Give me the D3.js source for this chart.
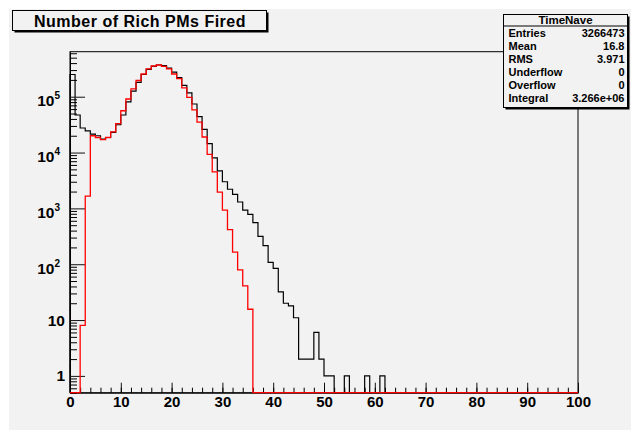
<!DOCTYPE html>
<html>
<head>
<meta charset="utf-8">
<script src="https://cdn.jsdelivr.net/npm/d3@7"></script>
<style>
  html, body { margin: 0; padding: 0; background: #ffffff; }
  svg { display: block; font-family: "Liberation Sans", Arial, Helvetica, sans-serif; }
</style>
</head>
<body>
<div id="chart"></div>
<script>
// Bin contents (100 bins of width 1 from 0 to 100)
const allHits = [
  250000, 47000, 27500, 24500, 21300, 20000, 17500, 18600, 23000, 31500,
  47000, 81000, 126000, 180000, 250000, 310000, 350000, 370000, 360000, 325000,
  275000, 220000, 160000, 117000, 74000, 44000, 26000, 14500, 8000, 4700,
  3000, 2200, 1780, 1300, 930, 780, 555, 315, 215, 108,
  84, 32, 20, 18, 11, 2, 2, 2, 6, 2,
  1, 1, 0, 0, 1, 0, 0, 0, 1, 0,
  0, 1, 0, 0, 0, 0, 0, 0, 0, 0,
  0, 0, 0, 0, 0, 0, 0, 0, 0, 0,
  0, 0, 0, 0, 0, 0, 0, 0, 0, 0,
  0, 0, 0, 0, 0, 0, 0, 0, 0, 0
];

const cutHits = [
  0, 0, 8, 1660, 20000, 18600, 17000, 18600, 23500, 33000,
  56000, 91000, 138000, 195000, 255000, 315000, 355000, 370000, 350000, 315000,
  255000, 210000, 144000, 97000, 58000, 35000, 19000, 9300, 4500, 1950,
  930, 418, 165, 79, 41, 15.6, 0, 0, 0, 0,
  0, 0, 0, 0, 0, 0, 0, 0, 0, 0,
  0, 0, 0, 0, 0, 0, 0, 0, 0, 0,
  0, 0, 0, 0, 0, 0, 0, 0, 0, 0,
  0, 0, 0, 0, 0, 0, 0, 0, 0, 0,
  0, 0, 0, 0, 0, 0, 0, 0, 0, 0,
  0, 0, 0, 0, 0, 0, 0, 0, 0, 0
];

const xTicks = [0, 10, 20, 30, 40, 50, 60, 70, 80, 90, 100];
const xMinorTicks = d3.range(0, 101, 2);
const yDecades = [1, 10, 100, 1000, 10000, 100000];
const yLabels = [['1', ''], ['10', ''], ['10', '2'], ['10', '3'], ['10', '4'], ['10', '5']];

const titleText = 'Number of Rich PMs Fired';
const statsName = 'TimeNave';
const statsRows = [
  ['Entries', '3266473'],
  ['Mean', '16.8'],
  ['RMS', '3.971'],
  ['Underflow', '0'],
  ['Overflow', '0'],
  ['Integral', '3.266e+06']
];

const W = 631, H = 430;
const frame = { left: 70, right: 578, top: 51.7, bottom: 392.7 };
const yMin = 0.5, yMax = 6.4e5;

const svg = d3.select('#chart').append('svg')
  .attr('width', W)
  .attr('height', H);

// Canvas pad
svg.append('rect')
  .attr('x', 9).attr('y', 9)
  .attr('width', W - 9).attr('height', H - 9)
  .attr('fill', '#f2f2f2');

// Scales
const x = d3.scaleLinear().domain([0, 100]).range([frame.left, frame.right]);
const y = d3.scaleLog().domain([yMin, yMax]).range([frame.bottom, frame.top]);

// Frame
svg.append('rect')
  .attr('x', frame.left).attr('y', frame.top)
  .attr('width', frame.right - frame.left)
  .attr('height', frame.bottom - frame.top)
  .attr('fill', 'none')
  .attr('stroke', '#000')
  .attr('stroke-width', 1);

// Step line through bin edges, empty bins sit on the frame bottom
function histPath(values) {
  const pts = [[0, yMin]];
  values.forEach((v, i) => pts.push([i, Math.max(v, yMin)]));
  pts.push([values.length, yMin]);
  return d3.line()
    .x(d => x(d[0]))
    .y(d => y(d[1]))
    .curve(d3.curveStepAfter)(pts);
}

svg.append('path')
  .attr('d', histPath(allHits))
  .attr('fill', 'none')
  .attr('stroke', '#000')
  .attr('stroke-width', 1.2);

// X axis: major + minor ticks pointing into the frame
const xAxisG = svg.append('g')
  .attr('transform', `translate(0,${frame.bottom})`)
  .call(d3.axisBottom(x).tickValues(xTicks).tickSizeInner(-10).tickSizeOuter(0).tickPadding(4));
svg.append('g')
  .attr('transform', `translate(0,${frame.bottom})`)
  .call(d3.axisBottom(x).tickValues(xMinorTicks).tickSizeInner(-5).tickSizeOuter(0).tickFormat(''))
  .call(g => g.select('.domain').remove());

xAxisG.select('.domain').attr('stroke', '#000');
xAxisG.selectAll('.tick line').attr('stroke', '#111');
xAxisG.selectAll('text')
  .attr('fill', '#000')
  .attr('font-size', '15px')
  .attr('font-weight', 'bold')
  .attr('font-family', '"Liberation Sans", Arial, sans-serif');

// Y axis (log): decades long, 2..9 short
const yAxisG = svg.append('g')
  .attr('transform', `translate(${frame.left},0)`)
  .call(d3.axisLeft(y).tickValues(yDecades).tickSizeInner(-15).tickSizeOuter(0).tickFormat(''));
svg.append('g')
  .attr('transform', `translate(${frame.left},0)`)
  .call(d3.axisLeft(y).tickValues(y.ticks().filter(v => !yDecades.includes(v)))
    .tickSizeInner(-7).tickSizeOuter(0).tickFormat(''))
  .call(g => g.select('.domain').remove());

yAxisG.select('.domain').attr('stroke', '#000');
yAxisG.selectAll('.tick line').attr('stroke', '#111');
yAxisG.selectAll('.tick text').remove();
yAxisG.selectAll('.tick').each(function (d, i) {
  const [base, exp] = yLabels[i];
  const t = d3.select(this).append('text')
    .attr('fill', '#000')
    .attr('font-size', '15.5px')
    .attr('font-weight', 'bold')
    .attr('text-anchor', 'end')
    .attr('x', exp ? -10 : -5)
    .attr('y', exp ? 9 : 5);
  t.append('tspan').text(base);
  if (exp) {
    t.append('tspan')
      .attr('font-size', '10px')
      .attr('dy', -7)
      .text(exp);
  }
});

// Second histogram drawn on top
svg.append('path')
  .attr('d', histPath(cutHits))
  .attr('fill', 'none')
  .attr('stroke', '#ff0000')
  .attr('stroke-width', 1.3);

// Box with ROOT-like shadow
function shadowBox(x0, y0, w, h) {
  svg.append('rect')
    .attr('x', x0 + 2).attr('y', y0 + 2)
    .attr('width', w).attr('height', h)
    .attr('fill', '#000');
  svg.append('rect')
    .attr('x', x0).attr('y', y0)
    .attr('width', w).attr('height', h)
    .attr('fill', '#f2f2f2')
    .attr('stroke', '#000')
    .attr('stroke-width', 1);
}

// Title
shadowBox(12.5, 10.5, 254, 20);
svg.append('text')
  .attr('x', 140).attr('y', 27)
  .attr('text-anchor', 'middle')
  .attr('font-size', '16px')
  .attr('letter-spacing', '0.5px')
  .attr('font-weight', 'bold')
  .attr('fill', '#000')
  .text(titleText);

// Stats box
const sb = { x: 503.5, y: 14.5, w: 124, h: 93 };
shadowBox(sb.x, sb.y, sb.w, sb.h);
svg.append('line')
  .attr('x1', sb.x).attr('x2', sb.x + sb.w)
  .attr('y1', 26).attr('y2', 26)
  .attr('stroke', '#000');
svg.append('text')
  .attr('x', sb.x + sb.w / 2).attr('y', 23.5)
  .attr('text-anchor', 'middle')
  .attr('font-size', '11.5px')
  .attr('font-weight', 'bold')
  .text(statsName);

statsRows.forEach((row, i) => {
  const yy = 37 + i * 13;
  svg.append('text')
    .attr('x', sb.x + 5).attr('y', yy)
    .attr('font-size', '11px')
    .attr('font-weight', 'bold')
    .text(row[0]);
  svg.append('text')
    .attr('x', sb.x + sb.w - 3).attr('y', yy)
    .attr('text-anchor', 'end')
    .attr('font-size', '11px')
    .attr('font-weight', 'bold')
    .text(row[1]);
});
</script>
</body>
</html>
